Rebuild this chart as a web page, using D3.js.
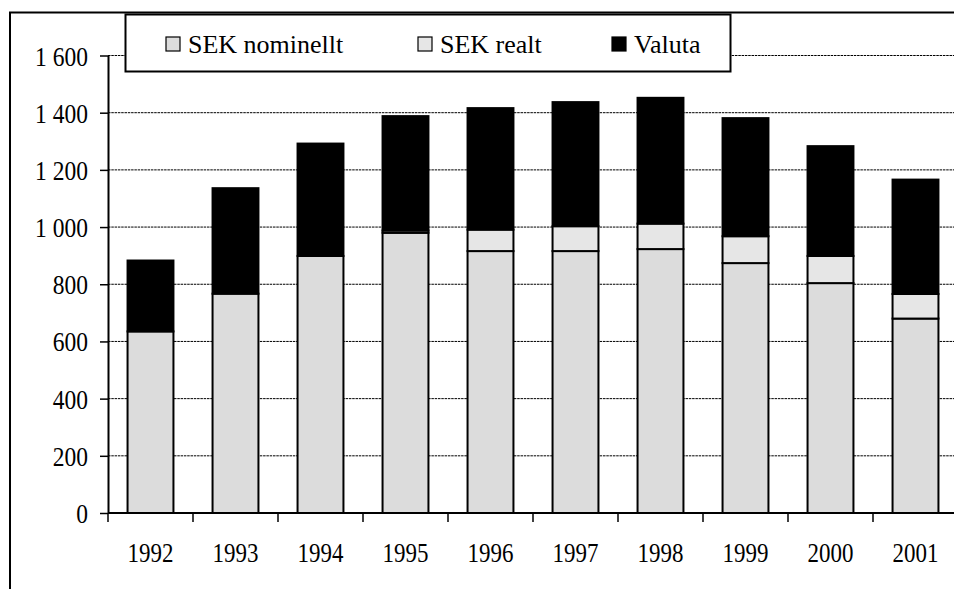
<!DOCTYPE html>
<html>
<head>
<meta charset="utf-8">
<script src="https://cdn.jsdelivr.net/npm/d3@7"></script>
<style>
  body { margin: 0; background: #fff; }
  svg { display: block; }
  svg text { font-family: "Liberation Serif", "Times New Roman", serif; }
  .grid line { stroke: #000; stroke-width: 1; stroke-dasharray: 2.5,0.8; }
</style>
</head>
<body>
<div id="chart"></div>
<script>
// data
const years = ['1992', '1993', '1994', '1995', '1996', '1997', '1998', '1999', '2000', '2001'];
const sekNominellt = [635, 767, 899, 980, 916, 916, 923, 874, 804, 680];
const sekRealt = [0, 0, 0, 8, 75, 87, 89, 94, 95, 86];
const valuta = [248, 369, 393, 400, 425, 434, 440, 413, 384, 400];
const yTicks = [0, 200, 400, 600, 800, 1000, 1200, 1400, 1600];

const seriesNames = ['SEK nominellt', 'SEK realt', 'Valuta'];
const seriesColors = ['#dcdcdc', '#e6e6e6', '#000000'];

const width = 954, height = 589;
const margin = {top: 55.5, left: 108, right: -4, bottom: 76};

const svg = d3.select('#chart').append('svg')
    .attr('width', width)
    .attr('height', height);

// table for the stack
const rows = years.map((y, i) => ({
    year: y,
    'SEK nominellt': sekNominellt[i],
    'SEK realt': sekRealt[i],
    'Valuta': valuta[i]
}));
const stacked = d3.stack().keys(seriesNames)(rows);

// scales
const x = d3.scaleBand()
    .domain(years)
    .range([margin.left, width - margin.right])
    .padding(0);
const barW = x.bandwidth() * 0.54;

const y = d3.scaleLinear()
    .domain([0, 1600])
    .range([height - margin.bottom, margin.top]);

const spaceFmt = d3.formatLocale({decimal: ',', thousands: ' ', grouping: [3], currency: ['', '']}).format(',');

// outer frame (left and top only)
svg.append('path')
    .attr('d', `M10,${height + 2}V12.5H${width + 2}`)
    .attr('fill', 'none')
    .attr('stroke', '#000')
    .attr('stroke-width', 2);

// gridlines
svg.append('g')
    .attr('class', 'grid')
    .selectAll('line')
    .data(yTicks.filter(d => d > 0))
    .join('line')
    .attr('x1', margin.left)
    .attr('x2', width - margin.right)
    .attr('y1', d => y(d))
    .attr('y2', d => y(d));

// bars
svg.append('g')
    .selectAll('g')
    .data(stacked)
    .join('g')
    .attr('fill', (d, i) => seriesColors[i])
    .selectAll('rect')
    .data(d => d.filter(s => s[1] - s[0] > 0))
    .join('rect')
    .attr('x', d => x(d.data.year) + (x.bandwidth() - barW) / 2)
    .attr('y', d => y(d[1]))
    .attr('width', barW)
    .attr('height', d => y(d[0]) - y(d[1]))
    .attr('stroke', '#000')
    .attr('stroke-width', 2);

// y axis
const yAxis = svg.append('g')
    .attr('transform', `translate(${margin.left},0)`)
    .call(d3.axisLeft(y).tickValues(yTicks).tickFormat(spaceFmt).tickSizeInner(8).tickSizeOuter(0).tickPadding(20));
yAxis.select('.domain').attr('stroke-width', 2);
yAxis.selectAll('.tick line').attr('stroke-width', 1.5);
yAxis.selectAll('.tick text')
    .attr('font-family', '"Liberation Serif", serif')
    .attr('font-size', 28)
    .attr('fill', '#000')
    .attr('x', -20 / 0.84)
    .attr('dy', '0.34em')
    .attr('transform', 'scale(0.84,1)');

// x axis: line, boundary ticks, centred labels
const xAxis = svg.append('g')
    .attr('transform', `translate(0,${y(0)})`);
xAxis.append('line')
    .attr('x1', margin.left)
    .attr('x2', width - margin.right)
    .attr('stroke', '#000')
    .attr('stroke-width', 2);
xAxis.selectAll('.xtick')
    .data(years)
    .join('line')
    .attr('class', 'xtick')
    .attr('x1', d => x(d))
    .attr('x2', d => x(d))
    .attr('y1', 0)
    .attr('y2', 9)
    .attr('stroke', '#000')
    .attr('stroke-width', 1.5);
xAxis.selectAll('.xlabel')
    .data(years)
    .join('text')
    .attr('class', 'xlabel')
    .attr('transform', d => `translate(${x(d) + x.bandwidth() / 2},49) scale(0.82,1)`)
    .attr('text-anchor', 'middle')
    .attr('font-size', 28)
    .attr('fill', '#000')
    .text(d => d);

// legend
const legend = svg.append('g');
legend.append('rect')
    .attr('x', 125.5)
    .attr('y', 14.5)
    .attr('width', 605)
    .attr('height', 57)
    .attr('fill', '#fff')
    .attr('stroke', '#000')
    .attr('stroke-width', 2);

const legendX = [166, 418, 612];
const items = legend.selectAll('.item')
    .data(seriesNames)
    .join('g')
    .attr('class', 'item')
    .attr('transform', (d, i) => `translate(${legendX[i]},0)`);
items.append('rect')
    .attr('x', 0)
    .attr('y', 37)
    .attr('width', 14)
    .attr('height', 14)
    .attr('fill', (d, i) => seriesColors[i])
    .attr('stroke', '#000')
    .attr('stroke-width', 1.2);
items.append('text')
    .attr('x', 22)
    .attr('y', 53)
    .attr('font-family', '"Liberation Serif", serif')
    .attr('font-size', 26)
    .attr('fill', '#000')
    .text(d => d);
</script>
</body>
</html>
